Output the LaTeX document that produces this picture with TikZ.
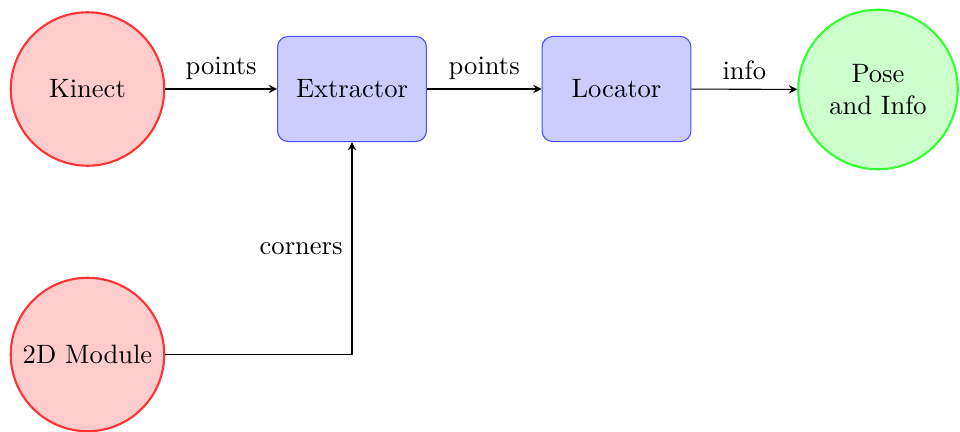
\documentclass[tikz,border=0pt]{standalone}
\usetikzlibrary{arrows}
\begin{document}
\begin{tikzpicture}[x=0.013228cm, y=-0.013228cm,
  source/.style={circle, draw=red!80, thick, fill=red!20, minimum size=2.03cm, inner sep=1pt, align=center},
  sink/.style={circle, draw=green!80, thick, fill=green!20, minimum size=2.11cm, inner sep=1pt, align=center},
  stage/.style={rectangle, rounded corners=4pt, draw=blue!70, fill=blue!20, minimum width=1.97cm, minimum height=1.39cm},
  flow/.style={-stealth}]
  \useasboundingbox (0,0) rectangle (960,432);
  \node[source] (kinect) at (87.5,89) {Kinect};
  \node[stage] (extractor) at (352,89) {Extractor};
  \node[stage] (locator) at (616.5,89) {Locator};
  \node[sink] (pose) at (878,89.5) {Pose\\and Info};
  \node[source] (module) at (87.5,354.5) {2D Module};
  \draw[flow] (kinect) -- node[above] {points} (extractor);
  \draw[flow] (extractor) -- node[above] {points} (locator);
  \draw[flow] (locator) -- node[above] {info} (pose);
  \draw[flow] (module) -| node[left, pos=0.75] {corners} (extractor);
\end{tikzpicture}
\end{document}
